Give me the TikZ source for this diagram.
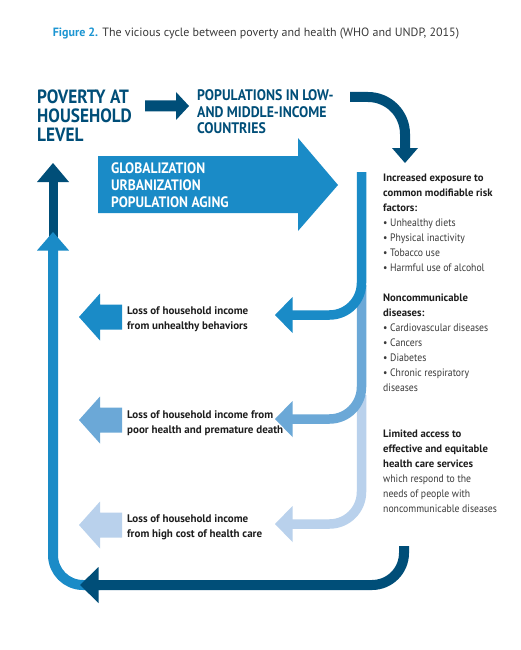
\documentclass[tikz,border=0pt]{standalone}
\usepackage{fontspec}
\setmainfont{PT Sans}
\newfontfamily\condfont[FakeStretch=0.9]{PT Sans}
\definecolor{dblue}{HTML}{004E78}
\definecolor{mblue}{HTML}{1A8BC7}
\definecolor{lblue}{HTML}{6BA8D7}
\definecolor{llblue}{HTML}{B9D1EC}
\definecolor{tblue}{HTML}{1B95D2}
\definecolor{txtgray}{HTML}{3A3A3A}
\definecolor{txtdark}{HTML}{1E1E1E}
\tikzset{
  headline/.style={font=\condfont\bfseries\fontsize{19.2}{19.5}\selectfont, text=dblue, align=left, inner sep=0pt, anchor=base west},
  subhead/.style={font=\condfont\bfseries\fontsize{15.3}{16.6}\selectfont, text=dblue, align=left, inner sep=0pt, anchor=base west},
  bandtext/.style={font=\condfont\bfseries\fontsize{15.1}{17}\selectfont, text=white, align=left, inner sep=0pt, anchor=base west},
  losstext/.style={font=\bfseries\fontsize{11}{14.8}\selectfont, text=txtdark, align=left, inner sep=0pt, anchor=base west},
  sidetext/.style={font=\condfont\fontsize{10.8}{15}\selectfont, text=txtgray, align=left, inner sep=0pt, anchor=base west},
  shaft/.style={line width=10pt},
  blockleft/.pic={\fill[pic actions] (0,0) -- (21,-23.5) -- (21,-12.5) -- (43,-12.5) -- (43,12.5) -- (21,12.5) -- (21,23.5) -- cycle;}
}
\newcommand\sidebold[1]{{\normalfont\bfseries\fontsize{10.7}{15}\selectfont\color{txtdark}#1}}
\begin{document}
\begin{tikzpicture}[x=1pt,y=-1pt]
\path[use as bounding box, fill=white] (0,0) rectangle (520,650);

% title
\node[font=\fontsize{12}{14}\selectfont, text=txtgray, inner sep=0pt, anchor=base] (title) at (256,37)
  {{\bfseries\color{tblue}Figure 2.} The vicious cycle between poverty and health (WHO and UNDP, 2015)};

% header texts (anchor = baseline of last line)
\node[headline] (poverty) at (37,142) {POVERTY AT\\HOUSEHOLD\\LEVEL};
\node[subhead] (pops) at (197,134) {POPULATIONS IN LOW-\\AND MIDDLE-INCOME\\COUNTRIES};

% short arrow poverty -> populations
\fill[dblue] (145,100.5) -- (176,100.5) -- (176,92) -- (189,106) -- (176,120) -- (176,111.5) -- (145,111.5) -- cycle;

% curved arrow populations -> risk factors
\coordinate (ca1) at (350,97);
\coordinate (ca2) at (405,148);
\draw[dblue, shaft, rounded corners=37pt] (ca1) -- (405,97) -- (ca2);
\fill[dblue] (392,148) -- (418,148) -- (405,163) -- cycle;

% big band arrow
\fill[mblue] (98,156) -- (298,156) -- (298,138) -- (338,185) -- (298,231) -- (298,213) -- (98,213) -- cycle;
\node[bandtext] (band) at (111,207) {GLOBALIZATION\\URBANIZATION\\POPULATION AGING};

% left long cycle arrow (medium blue)
\coordinate (lv1) at (53,250);
\coordinate (lv2) at (100,585);
\draw[mblue, shaft, rounded corners=30pt] (lv1) -- (53,585) -- (lv2);
% left top dark arrow
\draw[dblue, line width=9pt] (53,182) -- (53,240);
\fill[dblue] (37,182) -- (53,163) -- (69,182) -- cycle;
\fill[mblue] (37,250.5) -- (53,232) -- (69,250.5) -- cycle;

% bottom dark arrow
\coordinate (bd1) at (404,546);
\coordinate (bd2) at (98,585);
\draw[dblue, shaft, rounded corners=32pt] (bd1) -- (404,585) -- (bd2);
\fill[dblue] (98.5,567) -- (80,585) -- (98.5,603) -- cycle;

% right branching arrows
\draw[llblue, line width=9.5pt, rounded corners=32pt] (361.5,395) -- (361.5,524) -- (292,524);
\fill[llblue] (292.5,506) -- (275,524) -- (292.5,542) -- cycle;
\draw[lblue, line width=9.5pt, rounded corners=32pt] (361.5,285) -- (361.5,419) -- (292,419);
\fill[lblue] (292.5,401) -- (275,419) -- (292.5,437) -- cycle;
\draw[mblue, line width=9.5pt, rounded corners=32pt] (361.5,172) -- (361.5,315) -- (292,315);
\fill[mblue] (292.5,297) -- (275,315) -- (292.5,333) -- cycle;

% left block arrows
\pic[fill=mblue] at (79,317) {blockleft};
\pic[fill=lblue] at (79,420) {blockleft};
\pic[fill=llblue] at (79,525) {blockleft};

\node[losstext] (loss1) at (127,329) {Loss of household income\\from unhealthy behaviors};
\node[losstext] (loss2) at (127,433) {Loss of household income from\\poor health and premature death};
\node[losstext] (loss3) at (127,537) {Loss of household income\\from high cost of health care};

% right column
\node[sidetext] (risk) at (383,271) {\sidebold{Increased exposure to}\\\sidebold{common modifiable risk}\\\sidebold{factors:}\\\textbullet\ Unhealthy diets\\\textbullet\ Physical inactivity\\\textbullet\ Tobacco use\\\textbullet\ Harmful use of alcohol};
\node[sidetext] (ncd) at (383,391) {\sidebold{Noncommunicable}\\\sidebold{diseases:}\\\textbullet\ Cardiovascular diseases\\\textbullet\ Cancers\\\textbullet\ Diabetes\\\textbullet\ Chronic respiratory\\diseases};
\node[sidetext] (access) at (383,512.5) {\sidebold{Limited access to}\\\sidebold{effective and equitable}\\\sidebold{health care services}\\which respond to the\\needs of people with\\noncommunicable diseases};
\end{tikzpicture}
\end{document}
